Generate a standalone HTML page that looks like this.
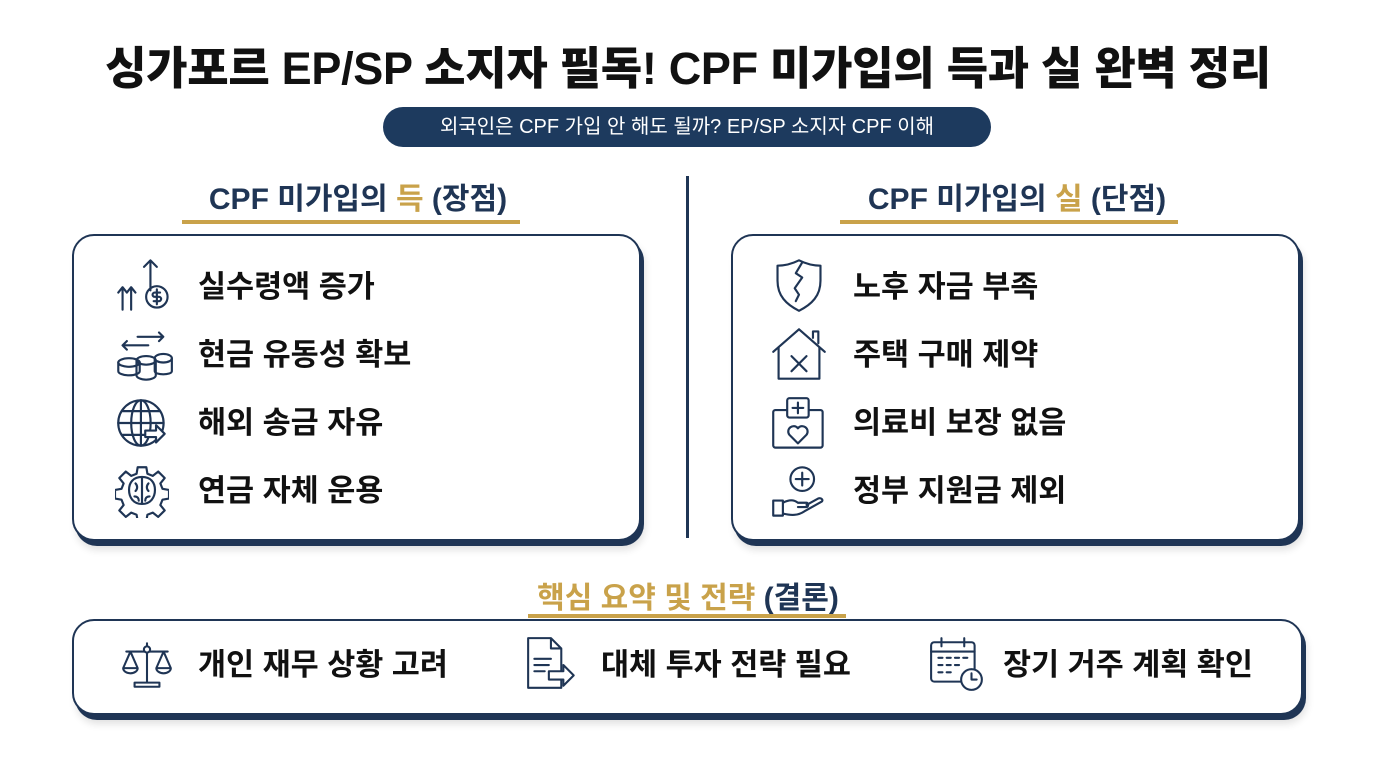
<!DOCTYPE html>
<html><head><meta charset="utf-8"><style>
*{margin:0;padding:0;box-sizing:border-box}
body{width:1376px;height:768px;background:#fff;position:relative;overflow:hidden;font-family:"Liberation Sans","Noto Sans CJK KR",sans-serif}
.abs{position:absolute}
.title{left:0;width:1376px;top:32px;text-align:center;font-size:45px;font-weight:900;color:#111;letter-spacing:-0.3px}
.pill{left:383px;top:107px;width:608px;height:40px;border-radius:20px;background:#1d3a5e;color:#fff;font-size:20px;line-height:40px;text-align:center}
.h{font-size:30px;font-weight:700;color:#1f3555;text-align:center;white-space:nowrap}
.gold{color:#c9a24a}
.ul{height:4px;background:#c9a24a}
.box{border:2.5px solid #1f3555;border-radius:22px;background:#fff;box-shadow:3px 5px 0 #1f3555,4px 9px 8px rgba(0,0,0,.12)}
.it{font-size:30.5px;font-weight:700;color:#111;white-space:nowrap;line-height:36px}
svg{position:absolute;fill:none;stroke:#1f3555;stroke-width:2;stroke-linecap:round;stroke-linejoin:round}
</style></head><body>
<div class="abs title">싱가포르 EP/SP 소지자 필독! CPF 미가입의 득과 실 완벽 정리</div>
<div class="abs pill">외국인은 CPF 가입 안 해도 될까? EP/SP 소지자 CPF 이해</div>

<div class="abs h" style="left:158px;width:400px;top:174px">CPF 미가입의 <span class="gold">득</span> (장점)</div>
<div class="abs ul" style="left:182px;top:220px;width:338px"></div>
<div class="abs h" style="left:817px;width:400px;top:174px">CPF 미가입의 <span class="gold">실</span> (단점)</div>
<div class="abs ul" style="left:840px;top:220px;width:338px"></div>
<div class="abs" style="left:686px;top:176px;width:3px;height:362px;background:#1f3555"></div>

<div class="abs box" style="left:72px;top:234px;width:569px;height:307px"></div>
<div class="abs box" style="left:731px;top:234px;width:569px;height:307px"></div>

<div class="abs it" style="left:198px;top:269px">실수령액 증가</div>
<div class="abs it" style="left:198px;top:337px">현금 유동성 확보</div>
<div class="abs it" style="left:198px;top:405px">해외 송금 자유</div>
<div class="abs it" style="left:198px;top:473px">연금 자체 운용</div>
<div class="abs it" style="left:853px;top:269px">노후 자금 부족</div>
<div class="abs it" style="left:853px;top:337px">주택 구매 제약</div>
<div class="abs it" style="left:853px;top:405px">의료비 보장 없음</div>
<div class="abs it" style="left:853px;top:473px">정부 지원금 제외</div>

<!-- left icons -->
<svg style="left:114px;top:256px" width="60" height="56" viewBox="0 0 56 52"><path d="M8 50V30M4 34l4-5 4 5M16 50V30M12 34l4-5 4 5"/><path d="M34 32V4M28 10l6-6 6 6"/><circle cx="40" cy="38" r="10"/><path d="M43 34h-5a2 2 0 0 0 0 4h4a2 2 0 0 1 0 4h-5M40 31v14"/></svg>
<svg style="left:114px;top:328px" width="60" height="54" viewBox="0 0 56 50"><path d="M22 8h24M42 4l4 4-4 4M8 16h24M12 12l-4 4 4 4"/><ellipse cx="14" cy="32" rx="10" ry="4"/><path d="M4 32v8c0 2 4 4 10 4s10-2 10-4v-8"/><ellipse cx="30" cy="30" rx="9" ry="4"/><path d="M21 30v14c0 2 4 4 9 4s9-2 9-4V30"/><ellipse cx="46" cy="28" rx="8" ry="4"/><path d="M38 28v12c0 2 4 3 8 3s8-1 8-3V28"/></svg>
<svg style="left:115px;top:396px" width="54" height="54" viewBox="0 0 50 50"><circle cx="24" cy="25" r="21"/><ellipse cx="24" cy="25" rx="9" ry="21"/><path d="M3 25h42M7 14h34M7 36h34M24 4v42"/><path d="M28 32h10v-5l8 8-8 8v-5H28z" fill="#fff"/></svg>
<svg style="left:115px;top:464px" width="54" height="54" viewBox="0 0 50 50"><path d="M21 3h8l1 6 5 2 5-4 6 6-4 5 2 5 6 1v8l-6 1-2 5 4 5-6 6-5-4-5 2-1 6h-8l-1-6-5-2-5 4-6-6 4-5-2-5-6-1v-8l6-1 2-5-4-5 6-6 5 4 5-2z"/><path d="M25 12c-8 0-12 5-12 12s4 13 12 13 12-6 12-13-4-12-12-12zM25 12v25M19 18c2 2 2 5 0 7M31 18c-2 2-2 5 0 7M18 30c3 0 4 2 4 4M32 30c-3 0-4 2-4 4"/></svg>

<!-- right icons -->
<svg style="left:772px;top:256px" width="54" height="58" viewBox="0 0 50 54"><path d="M25 4c-8 4-14 5-20 5v14c0 14 8 22 20 28 12-6 20-14 20-28V9c-6 0-12-1-20-5z"/><path d="M28 6l-6 10 6 4-7 10 4 6-3 6"/></svg>
<svg style="left:770px;top:326px" width="58" height="56" viewBox="0 0 54 52"><path d="M3 24L27 3l24 21M40 11V5h5v11"/><path d="M8 20v29h38V20"/><path d="M20 28l14 14M34 28L20 42"/></svg>
<svg style="left:770px;top:396px" width="58" height="56" viewBox="0 0 54 52"><rect x="3" y="13" width="46" height="35" rx="2"/><rect x="16" y="2" width="20" height="18" rx="2" fill="#fff"/><path d="M26 6v10M21 11h10"/><path d="M26 44l-8-8a5 5 0 0 1 8-6 5 5 0 0 1 8 6z"/></svg>
<svg style="left:770px;top:464px" width="58" height="56" viewBox="0 0 54 52"><circle cx="30" cy="14" r="11"/><path d="M30 8v12M24 14h12"/><path d="M3 34h9v14H3zM12 36c6-3 10-3 14 0h8c2 0 2 4 0 4h-8M12 46c8 2 14 2 20-2l16-9c2-1 0-4-3-3l-11 6"/></svg>

<!-- bottom -->
<div class="abs h" style="left:488px;width:400px;top:573px;color:#c9a24a">핵심 요약 및 전략 <span style="color:#1f3555">(결론)</span></div>
<div class="abs box" style="left:72px;top:619px;width:1231px;height:96px"></div>
<div class="abs ul" style="left:528px;top:614px;width:318px"></div>
<div class="abs it" style="left:198px;top:647px">개인 재무 상황 고려</div>
<div class="abs it" style="left:601px;top:647px">대체 투자 전략 필요</div>
<div class="abs it" style="left:1003px;top:647px">장기 거주 계획 확인</div>
<svg style="left:118px;top:638px" width="58" height="54" viewBox="0 0 56 50"><path d="M28 4v38M8 12h40M16 46h24v-4H16z"/><circle cx="28" cy="10" r="3" fill="#fff"/><path d="M12 12L5 28h14zM44 12l-7 16h14zM5 28a7 5 0 0 0 14 0M37 28a7 5 0 0 0 14 0"/></svg>
<svg style="left:524px;top:636px" width="58" height="56" viewBox="0 0 56 54"><path d="M4 2h22l10 10v38H4z M26 2v10h10"/><path d="M10 22h16M10 28h14M10 34h10"/><path d="M24 34h14v-6l10 10-10 10v-6H24z" fill="#fff"/></svg>
<svg style="left:928px;top:636px" width="58" height="56" viewBox="0 0 56 54"><rect x="3" y="6" width="42" height="38" rx="3"/><path d="M3 15h42M13 2v8M35 2v8"/><path d="M10 21h4M18 21h4M26 21h4M34 21h4M10 28h4M18 28h4M26 28h4M10 35h4M18 35h4"/><circle cx="42" cy="42" r="10" fill="#fff"/><path d="M42 36v6h5"/></svg>
</body></html>
